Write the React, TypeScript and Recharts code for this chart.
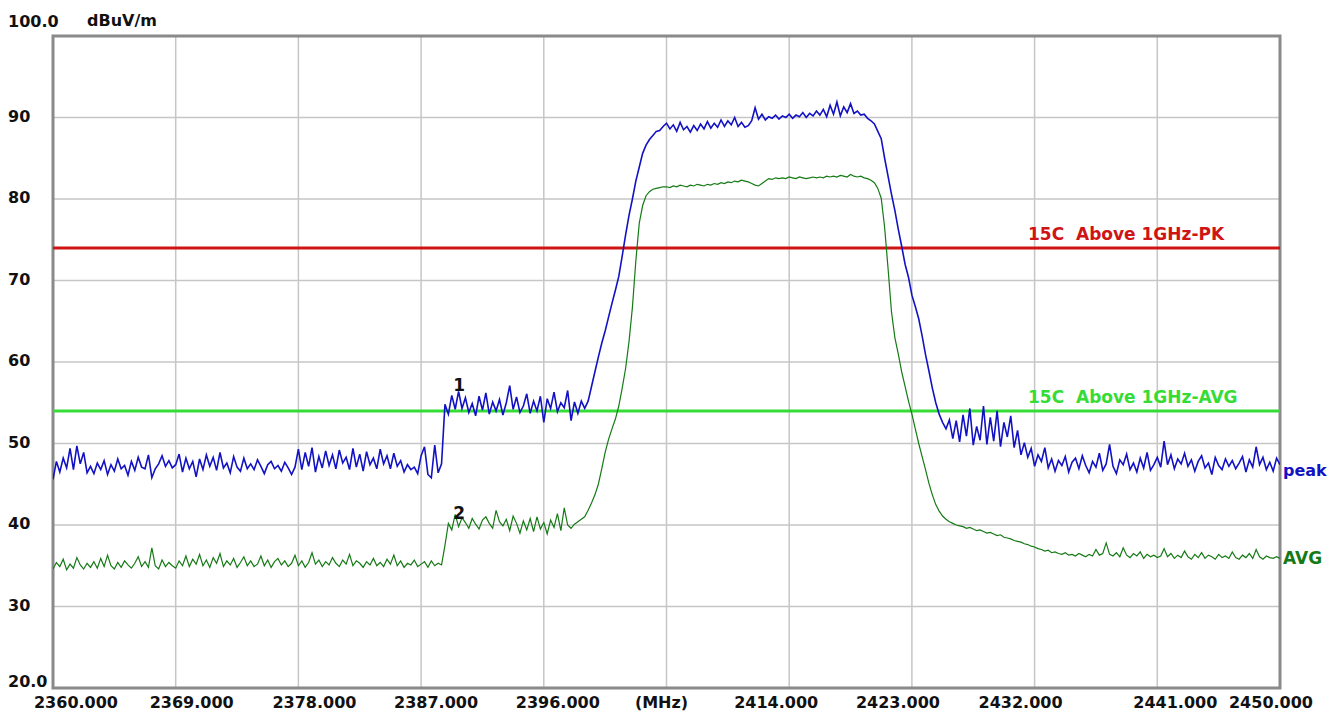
import React from 'react';
import {
  LineChart,
  Line,
  XAxis,
  YAxis,
  CartesianGrid,
  ReferenceLine,
  ReferenceArea,
  ReferenceDot,
} from 'recharts';

// ---------- data ----------
const START_MHZ = 2360;
const STEP_MHZ = 0.25;

const peakValues: number[] = [
  // 2360 - 2388.25
  45.6, 47.8, 46.5, 48.2, 47.0, 49.4, 46.8, 49.7, 47.5, 48.9, 46.4, 47.2,
  46.3, 47.6, 46.8, 47.9, 46.2, 47.4, 46.6, 48.1, 46.9, 47.3, 46.1, 47.8,
  46.7, 48.3, 47.1, 46.9, 48.6, 45.8, 46.9, 47.5, 48.5, 47.2, 47.9, 47.0,
  47.4, 48.7, 46.5, 48.2, 46.9, 47.8, 45.9, 48.1, 46.8, 48.6, 47.2, 48.3,
  46.7, 48.9, 47.0, 47.6, 46.4, 48.4, 47.1, 46.6, 48.2, 46.9, 47.5, 46.8,
  48.0, 47.2, 46.3, 47.4, 47.8, 46.9, 47.3, 46.6, 47.7, 47.0, 46.2, 47.1,
  49.3, 46.8, 48.9, 47.2, 49.5, 46.5, 48.4, 47.0, 49.1, 47.3, 48.6, 46.9,
  49.2, 47.6, 48.3, 46.8, 49.4, 47.1, 48.7, 46.6, 49.0, 47.4, 48.2, 46.9,
  49.3, 47.5, 48.5, 46.9, 48.8, 47.2, 47.9, 46.5, 47.4, 46.8, 47.1, 46.3,
  48.5, 49.6, 46.2, 45.8, 49.8, 46.4,
  // 2388.5 - 2399
  47.5, 54.8, 53.6, 55.9, 54.2, 56.4,
  54.3, 55.6, 53.8, 54.9, 53.4, 55.8, 54.1, 56.2, 53.6, 55.1, 54.0, 55.4,
  53.5, 55.0, 57.1, 54.2, 55.7, 53.8, 54.6, 56.1, 53.7, 55.2, 54.0, 55.8,
  52.6, 55.5, 54.3, 56.3, 53.9, 55.0, 54.4, 56.5, 52.8, 55.1, 53.7, 55.2,
  54.3,
  // rising edge 2399.25 - 2405
  55.2, 57.0, 58.8, 60.6, 62.3, 63.8, 65.5, 67.2, 68.8, 70.5, 73.0, 75.6,
  78.0, 80.0, 82.2, 83.9, 85.6, 86.6, 87.3, 87.8, 88.3, 88.4, 88.9, 89.3,
  // top 2405.25 - 2420.5
  88.6, 89.1, 88.3, 89.4, 88.5, 88.9, 88.2, 89.0, 88.4, 89.2, 88.6, 89.5,
  88.7, 89.3, 88.8, 89.7, 88.9, 89.6, 89.1, 90.0, 88.9, 89.4, 88.8, 89.0,
  89.6, 91.2, 89.8, 90.4, 89.7, 90.1, 89.9, 90.3, 89.8, 90.2, 90.0, 90.4,
  89.9, 90.3, 90.1, 90.6, 90.0, 90.5, 90.2, 90.8, 90.3, 91.0, 90.1, 91.5,
  90.4, 91.9, 90.2, 91.3, 90.6, 91.7, 90.5, 90.8, 90.3, 90.4, 89.9, 89.6,
  89.2, 88.3,
  // falling edge 2420.75 - 2425.75
  87.4, 85.0, 82.8, 80.6, 78.6, 76.3, 74.2, 72.0, 70.4, 68.2, 66.8, 65.3,
  63.2, 60.9, 58.9, 56.8, 55.0, 53.6, 52.6, 51.8, 52.9,
  // 2426 - 2431.75
  50.6, 52.8, 50.2, 53.5, 50.9, 54.3, 49.8, 52.1, 50.4, 54.6, 49.9, 53.2,
  50.3, 54.0, 49.6, 52.6, 50.8, 53.4, 49.5, 51.6, 48.6, 50.1, 48.3, 49.4,
  // 2432 - 2450
  47.2, 48.6, 47.8, 49.5, 47.0, 48.1, 46.6, 47.9, 47.3, 48.4, 46.5, 47.7,
  48.2, 46.9, 48.5, 47.3, 46.4, 47.8, 47.1, 48.8, 46.7, 47.5, 49.9, 47.2,
  46.3, 48.0, 47.4, 48.7, 46.8, 47.6, 46.5, 48.2, 47.0, 48.9, 46.7, 47.4,
  48.3, 47.1, 50.3, 47.4, 48.6, 46.9, 48.1, 47.5, 48.8, 47.2, 48.0, 46.6,
  47.8, 48.5, 47.0, 47.6, 46.2, 48.3, 47.3, 46.8, 48.1, 47.2, 47.9, 46.9,
  47.6, 48.4, 46.5, 48.0, 47.1, 49.6, 47.4, 48.3, 46.8, 47.7, 46.6, 48.2,
  47.4,
];

const avgValues: number[] = [
  // 2360 - 2388.25
  34.6, 35.4, 34.9, 35.8, 34.5, 35.2, 34.7, 36.0, 35.1, 34.6, 35.3, 34.8,
  35.5, 34.7, 35.9, 34.9, 36.3, 35.0, 34.6, 35.4, 34.8, 35.6, 35.1, 34.7,
  35.3, 36.1, 34.9, 35.5, 34.8, 37.2, 35.0, 34.6, 35.7, 34.9, 35.4, 35.0,
  34.7, 35.6, 35.0, 36.2, 34.9, 35.8, 35.2, 36.4, 35.0, 35.7, 34.8, 36.0,
  35.3, 36.5, 34.9, 35.6, 35.1, 35.9, 34.8, 35.4, 36.1, 35.0, 35.6, 34.9,
  35.2, 36.2, 35.0, 35.7, 34.8, 35.5, 35.9, 35.1, 35.6, 34.9, 35.3, 36.3,
  35.0, 35.6, 34.8, 35.4, 36.6, 35.2, 35.7, 34.9, 35.5, 35.1, 36.0, 35.3,
  34.9, 35.7, 35.2, 36.4, 35.0, 35.6, 35.3, 34.8, 35.5, 35.1, 35.9, 35.0,
  35.4, 34.9, 35.8, 35.2, 36.3, 35.0, 35.6, 34.8, 35.3, 35.1, 35.7, 34.9,
  35.2, 35.5, 34.8, 35.6, 35.0, 35.3,
  // 2388.5 - 2389
  35.1, 37.5, 40.2,
  // 2389.25 - 2398
  39.4, 41.3, 39.8, 40.9, 40.3, 39.6, 40.8, 40.1, 39.5, 40.6, 41.0, 40.2,
  39.6, 41.8, 40.4, 39.9, 40.7, 39.3, 41.1, 40.2, 39.0, 40.5, 39.4, 40.8,
  39.2, 41.0, 39.5, 40.3, 38.9, 40.6, 39.7, 41.4, 39.3, 42.1, 40.0, 39.6,
  // rising edge 2398.25 - 2405
  40.1, 40.4, 40.7, 41.0, 41.8, 42.7, 43.7, 45.0, 46.9, 48.9,
  50.5, 51.8, 53.0, 54.6, 56.8, 59.2, 62.5, 66.7, 72.4, 77.0,
  79.2, 80.4, 80.9, 81.2, 81.3, 81.4, 81.5, 81.5,
  // top 2405.25 - 2420.5
  81.4, 81.6, 81.5, 81.7, 81.6, 81.5, 81.7, 81.6, 81.8, 81.7, 81.6, 81.8,
  81.7, 81.9, 81.8, 82.0, 81.9, 82.1, 82.0, 82.2, 82.1, 82.3, 82.2, 82.1,
  81.9, 81.7, 81.6, 81.9, 82.2, 82.5, 82.4, 82.6, 82.5, 82.6, 82.5, 82.7,
  82.6, 82.5, 82.7, 82.6, 82.5, 82.6, 82.7, 82.6, 82.7, 82.6, 82.8, 82.7,
  82.8, 82.7, 82.9, 82.8, 82.7, 83.0, 82.8, 82.7, 82.8, 82.6, 82.5, 82.3,
  82.0, 81.3,
  // falling edge 2420.75 - 2425.75
  80.1, 76.5, 71.5, 66.2, 63.0, 61.0, 58.8, 57.0, 55.2, 53.6, 51.8, 50.0,
  48.4, 46.8, 45.1, 43.7, 42.5, 41.7, 41.1, 40.7, 40.4,
  // 2426 - 2431.75
  40.2, 40.0, 39.9, 39.8, 39.6, 39.7, 39.5, 39.3, 39.4, 39.2, 39.0, 39.1,
  38.9, 38.7, 38.8, 38.5, 38.4, 38.3, 38.1, 38.0, 37.9, 37.7, 37.6, 37.4,
  // 2432 - 2450
  37.3, 37.1, 37.0, 36.8, 36.9, 36.6, 36.7, 36.5, 36.4, 36.6, 36.3, 36.4,
  36.2, 36.5, 36.3, 36.1, 36.4, 36.2, 37.0, 36.3, 36.5, 37.8, 36.4, 36.2,
  36.6, 36.1, 37.2, 36.3, 36.0, 36.5, 36.2, 36.7, 35.9, 36.4, 36.1, 36.3,
  36.0, 36.2, 37.1, 36.1, 36.5, 35.9, 36.3, 36.0, 36.8, 36.1, 35.8, 36.4,
  36.0, 36.6, 35.9, 36.3, 36.1, 35.8, 36.4, 36.0, 36.2, 35.9, 36.7, 36.0,
  35.8, 36.3, 36.0, 36.5, 35.9, 37.0, 36.1, 35.8, 36.2, 36.0, 35.9, 36.1,
  35.9,
];

const xTicks = [2360, 2369, 2378, 2387, 2396, 2405, 2414, 2423, 2432, 2441, 2450];
const xTickLabels = [
  '2360.000', '2369.000', '2378.000', '2387.000', '2396.000', '(MHz)',
  '2414.000', '2423.000', '2432.000', '2441.000', '2450.000',
];
const yTicks = [20, 30, 40, 50, 60, 70, 80, 90, 100];
const yTickLabels = ['20.0', '30', '40', '50', '60', '70', '80', '90', '100.0'];

const LIMIT_PK = 74;
const LIMIT_AVG = 54;
const LIMIT_PK_LABEL = '15C  Above 1GHz-PK';
const LIMIT_AVG_LABEL = '15C  Above 1GHz-AVG';

const markers = [
  { id: '1', f: 2389.8, v: 57.2 },
  { id: '2', f: 2389.8, v: 41.5 },
];

const PEAK_LABEL_V = 46.6;
const AVG_LABEL_V = 35.9;

const data = peakValues.map((p, i) => ({
  f: START_MHZ + i * STEP_MHZ,
  peak: p,
  avg: avgValues[i],
}));

// ---------- styles ----------
const W = 1341;
const H = 714;
const FONT_FAMILY = '"DejaVu Sans", "Liberation Sans", sans-serif';
const tickStyle: React.CSSProperties = {
  fontFamily: FONT_FAMILY,
  fontWeight: 700,
  fontSize: 16,
};
const labelStyle: React.CSSProperties = {
  fontFamily: FONT_FAMILY,
  fontWeight: 700,
  fontSize: 17,
  whiteSpace: 'pre',
};

const PEAK_COLOR = '#1212c4';
const AVG_COLOR = '#157a15';
const PK_LIMIT_COLOR = '#d01414';
const AVG_LIMIT_COLOR = '#36dc36';
const GRID_COLOR = '#c6c6c6';
const BORDER_COLOR = '#8a8a8a';

const X_LABEL_SHIFT = [23, 16, 16, 15, 14, -5, -13, -14, -14, 18, -9];

const XTick = (props: any) => {
  const { x, payload } = props;
  const i = xTicks.indexOf(payload.value);
  if (i < 0) return null;
  return (
    <text x={x + X_LABEL_SHIFT[i]} y={708} textAnchor="middle" fill="#111" style={tickStyle}>
      {xTickLabels[i]}
    </text>
  );
};

const YTick = (props: any) => {
  const { y, payload } = props;
  const v = payload.value;
  const i = yTicks.indexOf(v);
  if (i < 0) return null;
  const dy = v === 100 ? -9 : v === 20 ? -1 : 4;
  return (
    <text x={8} y={y + dy} textAnchor="start" fill="#111" style={tickStyle}>
      {yTickLabels[i]}
    </text>
  );
};

export default function App() {
  return (
    <div
      style={{
        position: 'absolute',
        left: 0,
        top: 0,
        width: W,
        height: H,
        overflow: 'hidden',
        background: '#fff',
      }}
    >
      <LineChart
        width={W}
        height={H}
        data={data}
        margin={{ top: 36, right: 61, bottom: 0, left: 0 }}
      >
        <CartesianGrid stroke={GRID_COLOR} strokeWidth={1.5} />
        <XAxis
          dataKey="f"
          type="number"
          domain={[2360, 2450]}
          ticks={xTicks}
          interval={0}
          height={26}
          axisLine={false}
          tickLine={false}
          tick={<XTick />}
          allowDataOverflow
        />
        <YAxis
          type="number"
          domain={[20, 100]}
          ticks={yTicks}
          interval={0}
          width={53}
          axisLine={false}
          tickLine={false}
          tick={<YTick />}
          allowDataOverflow
        />
        <ReferenceLine
          y={LIMIT_PK}
          stroke={PK_LIMIT_COLOR}
          strokeWidth={3}
          label={(p: any) => (
            <text
              x={p.viewBox.x + 975}
              y={p.viewBox.y - 8}
              fill={PK_LIMIT_COLOR}
              style={labelStyle}
              xmlSpace="preserve"
            >
              {LIMIT_PK_LABEL}
            </text>
          )}
        />
        <ReferenceLine
          y={LIMIT_AVG}
          stroke={AVG_LIMIT_COLOR}
          strokeWidth={3}
          label={(p: any) => (
            <text
              x={p.viewBox.x + 975}
              y={p.viewBox.y - 8}
              fill={AVG_LIMIT_COLOR}
              style={labelStyle}
              xmlSpace="preserve"
            >
              {LIMIT_AVG_LABEL}
            </text>
          )}
        />
        <Line
          type="linear"
          dataKey="avg"
          stroke={AVG_COLOR}
          strokeWidth={1.2}
          dot={false}
          isAnimationActive={false}
        />
        <Line
          type="linear"
          dataKey="peak"
          stroke={PEAK_COLOR}
          strokeWidth={1.6}
          dot={false}
          isAnimationActive={false}
        />
        {markers.map((m) => (
          <ReferenceDot
            key={m.id}
            x={m.f}
            y={m.v}
            r={1}
            fill="none"
            stroke="none"
            label={(p: any) => (
              <text
                x={p.viewBox.x + p.viewBox.width / 2}
                y={p.viewBox.y + 7}
                textAnchor="middle"
                fill="#111"
                style={{ ...tickStyle, fontSize: 17 }}
              >
                {m.id}
              </text>
            )}
          />
        ))}
        <ReferenceDot
          x={2450}
          y={PEAK_LABEL_V}
          r={1}
          fill="none"
          stroke="none"
          label={(p: any) => (
            <text x={p.viewBox.x + 4} y={p.viewBox.y + 6} fill={PEAK_COLOR} style={tickStyle}>
              peak
            </text>
          )}
        />
        <ReferenceDot
          x={2450}
          y={AVG_LABEL_V}
          r={1}
          fill="none"
          stroke="none"
          label={(p: any) => (
            <text x={p.viewBox.x + 4} y={p.viewBox.y + 7} fill={AVG_COLOR} style={{ ...tickStyle, fontSize: 17 }}>
              AVG
            </text>
          )}
        />
        <ReferenceArea
          x1={2360}
          x2={2450}
          y1={20}
          y2={100}
          fill="none"
          fillOpacity={0}
          stroke={BORDER_COLOR}
          strokeWidth={3}
        />
      </LineChart>
      <svg
        width={W}
        height={60}
        style={{ position: 'absolute', left: 0, top: 0, pointerEvents: 'none' }}
      >
        <text x={87} y={26} fill="#111" style={tickStyle}>
          dBuV/m
        </text>
      </svg>
    </div>
  );
}
